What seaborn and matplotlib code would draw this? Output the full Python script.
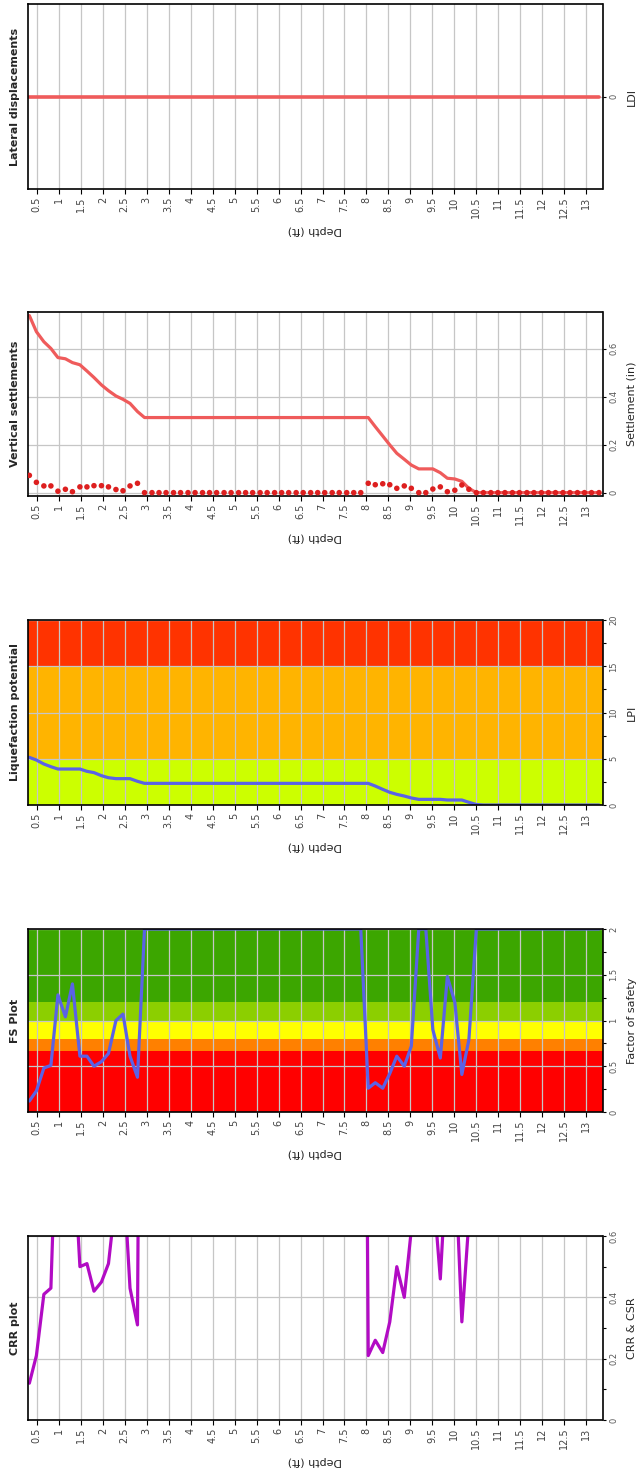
import matplotlib
matplotlib.use('Agg')
import matplotlib.pyplot as plt
from matplotlib.ticker import MultipleLocator, FixedLocator, FuncFormatter
import seaborn as sns

# depth of each reading (ft)
depth_ft = [0.33, 0.49, 0.66, 0.82, 0.98, 1.15, 1.31, 1.48, 1.64, 1.80,
            1.97, 2.13, 2.30, 2.46, 2.62, 2.79, 2.95, 3.12, 3.28, 3.44,
            3.61, 3.77, 3.94, 4.10, 4.27, 4.43, 4.59, 4.76, 4.92, 5.09,
            5.25, 5.41, 5.58, 5.74, 5.91, 6.07, 6.23, 6.40, 6.56, 6.73,
            6.89, 7.05, 7.22, 7.38, 7.55, 7.71, 7.87, 8.04, 8.20, 8.37,
            8.53, 8.69, 8.86, 9.02, 9.19, 9.35, 9.51, 9.68, 9.84, 10.01,
            10.17, 10.33, 10.50, 10.66, 10.83, 10.99, 11.15, 11.32, 11.48, 11.65,
            11.81, 11.98, 12.14, 12.30, 12.47, 12.63, 12.80, 12.96, 13.12, 13.29]

# CRR (values above 0.6 run off the top of the plot)
crr = [0.12, 0.21, 0.41, 0.43, 1.13, 1.20, 0.95, 0.50, 0.51, 0.42,
       0.45, 0.51, 0.73, 0.83, 0.43, 0.31, 4.0, 4.0, 4.0, 4.0,
       4.0, 4.0, 4.0, 4.0, 4.0, 4.0, 4.0, 4.0, 4.0, 4.0,
       4.0, 4.0, 4.0, 4.0, 4.0, 4.0, 4.0, 4.0, 4.0, 4.0,
       4.0, 4.0, 4.0, 4.0, 4.0, 4.0, 4.0, 0.21, 0.26, 0.22,
       0.32, 0.50, 0.40, 0.62, 4.0, 4.0, 0.77, 0.46, 0.88, 0.87,
       0.32, 0.65, 4.0, 4.0, 4.0, 4.0, 4.0, 4.0, 4.0, 4.0,
       4.0, 4.0, 4.0, 4.0, 4.0, 4.0, 4.0, 4.0, 4.0, 4.0]

factor_of_safety = [0.12, 0.23, 0.48, 0.51, 1.28, 1.04, 1.40, 0.61, 0.61, 0.50,
                    0.55, 0.64, 1.00, 1.07, 0.61, 0.38, 2.0, 2.0, 2.0, 2.0,
                    2.0, 2.0, 2.0, 2.0, 2.0, 2.0, 2.0, 2.0, 2.0, 2.0,
                    2.0, 2.0, 2.0, 2.0, 2.0, 2.0, 2.0, 2.0, 2.0, 2.0,
                    2.0, 2.0, 2.0, 2.0, 2.0, 2.0, 2.0, 0.26, 0.32, 0.26,
                    0.42, 0.61, 0.50, 0.72, 2.0, 2.0, 0.90, 0.59, 1.48, 1.20,
                    0.41, 0.79, 2.0, 2.0, 2.0, 2.0, 2.0, 2.0, 2.0, 2.0,
                    2.0, 2.0, 2.0, 2.0, 2.0, 2.0, 2.0, 2.0, 2.0, 2.0]

lpi = [5.15, 4.86, 4.43, 4.14, 3.89, 3.89, 3.89, 3.89, 3.64, 3.50,
       3.17, 2.95, 2.85, 2.85, 2.85, 2.56, 2.34, 2.34, 2.34, 2.34,
       2.34, 2.34, 2.34, 2.34, 2.34, 2.34, 2.34, 2.34, 2.34, 2.34,
       2.34, 2.34, 2.34, 2.34, 2.34, 2.34, 2.34, 2.34, 2.34, 2.34,
       2.34, 2.34, 2.34, 2.34, 2.34, 2.34, 2.34, 2.34, 2.05, 1.69,
       1.37, 1.15, 0.97, 0.76, 0.61, 0.61, 0.61, 0.61, 0.54, 0.54,
       0.54, 0.29, 0.05, 0.0, 0.0, 0.0, 0.0, 0.0, 0.0, 0.0,
       0.0, 0.0, 0.0, 0.0, 0.0, 0.0, 0.0, 0.0, 0.0, 0.0]

settlement_total = [0.738, 0.671, 0.629, 0.601, 0.563, 0.558, 0.542, 0.533, 0.507, 0.480,
                    0.449, 0.425, 0.403, 0.389, 0.372, 0.338, 0.313, 0.313, 0.313, 0.313,
                    0.313, 0.313, 0.313, 0.313, 0.313, 0.313, 0.313, 0.313, 0.313, 0.313,
                    0.313, 0.313, 0.313, 0.313, 0.313, 0.313, 0.313, 0.313, 0.313, 0.313,
                    0.313, 0.313, 0.313, 0.313, 0.313, 0.313, 0.313, 0.313, 0.275, 0.236,
                    0.199, 0.164, 0.139, 0.115, 0.099, 0.099, 0.099, 0.083, 0.060, 0.057,
                    0.047, 0.018, 0.0, 0.0, 0.0, 0.0, 0.0, 0.0, 0.0, 0.0,
                    0.0, 0.0, 0.0, 0.0, 0.0, 0.0, 0.0, 0.0, 0.0, 0.0]

settlement_layer = [0.072, 0.043, 0.028, 0.028, 0.006, 0.014, 0.004, 0.024, 0.024, 0.029,
                    0.029, 0.024, 0.013, 0.008, 0.028, 0.039, 0.0, 0.0, 0.0, 0.0,
                    0.0, 0.0, 0.0, 0.0, 0.0, 0.0, 0.0, 0.0, 0.0, 0.0,
                    0.0, 0.0, 0.0, 0.0, 0.0, 0.0, 0.0, 0.0, 0.0, 0.0,
                    0.0, 0.0, 0.0, 0.0, 0.0, 0.0, 0.0, 0.039, 0.033, 0.037,
                    0.033, 0.018, 0.028, 0.018, 0.0, 0.0, 0.015, 0.024, 0.004, 0.010,
                    0.032, 0.014, 0.0, 0.0, 0.0, 0.0, 0.0, 0.0, 0.0, 0.0,
                    0.0, 0.0, 0.0, 0.0, 0.0, 0.0, 0.0, 0.0, 0.0, 0.0]

ldi = [0.0, 0.0, 0.0, 0.0, 0.0, 0.0, 0.0, 0.0, 0.0, 0.0,
       0.0, 0.0, 0.0, 0.0, 0.0, 0.0, 0.0, 0.0, 0.0, 0.0,
       0.0, 0.0, 0.0, 0.0, 0.0, 0.0, 0.0, 0.0, 0.0, 0.0,
       0.0, 0.0, 0.0, 0.0, 0.0, 0.0, 0.0, 0.0, 0.0, 0.0,
       0.0, 0.0, 0.0, 0.0, 0.0, 0.0, 0.0, 0.0, 0.0, 0.0,
       0.0, 0.0, 0.0, 0.0, 0.0, 0.0, 0.0, 0.0, 0.0, 0.0,
       0.0, 0.0, 0.0, 0.0, 0.0, 0.0, 0.0, 0.0, 0.0, 0.0,
       0.0, 0.0, 0.0, 0.0, 0.0, 0.0, 0.0, 0.0, 0.0, 0.0]

fs_bands = [(0, 0.67, '#ff0000'), (0.67, 0.8, '#ff8000'), (0.8, 1.0, '#ffff00'),
            (1.0, 1.2, '#8ccf00'), (1.2, 2.0, '#3ca600')]
lpi_bands = [(0, 5, '#ccff00'), (5, 15, '#ffb400'), (15, 20, '#ff3300')]

sns.set_style('white')
plt.rcParams['font.family'] = ['DejaVu Sans']

W, H = 636, 1471
fig = plt.figure(figsize=(W / 100, H / 100), dpi=100)


def make_axes(top, bottom):
    return fig.add_axes([27.6 / W, 1 - bottom / H, (602.5 - 27.6) / W, (bottom - top) / H])


def style_axes(ax, title, ylabel, ylim, major, minor=None):
    ax.set_xlim(0.29, 13.37)
    ax.set_ylim(*ylim)
    ax.xaxis.set_major_locator(MultipleLocator(0.5))
    ax.xaxis.set_major_formatter(FuncFormatter(lambda v, p: f'{v:g}'))
    ax.yaxis.set_major_locator(FixedLocator(major))
    ax.yaxis.set_major_formatter(FuncFormatter(lambda v, p: f'{v:g}'))
    if minor is not None:
        ax.yaxis.set_minor_locator(FixedLocator(minor))
    ax.yaxis.tick_right()
    ax.tick_params(axis='x', which='major', bottom=True, labelrotation=90, labelsize=7,
                   length=3.6, width=0.8, color='black', labelcolor='#444444', pad=2)
    ax.tick_params(axis='y', which='both', right=True, left=False, labelrotation=90,
                   labelsize=6, length=2.5, width=0.8, color='black',
                   labelcolor='#555555', pad=2.5)
    plt.setp(ax.get_yticklabels(), va='center')
    ax.grid(True, which='major', color='#c6c6c6', linewidth=0.9)
    for s in ax.spines.values():
        s.set_color('black')
        s.set_linewidth(1.2)
    ax.set_xlabel('Depth (ft)', rotation=180, fontsize=8, color='#222222')
    ax.xaxis.label.set_va('center')
    ax.xaxis.set_label_coords(0.5, -0.222)
    ax.set_ylabel('')
    ax.text(-0.0212, 0.5, title, transform=ax.transAxes, rotation=90, fontsize=8,
            fontweight='bold', ha='center', va='center')
    ax.text(1.0505, 0.5, ylabel, transform=ax.transAxes, rotation=90, fontsize=8,
            ha='center', va='center')


# Lateral displacements
ax = make_axes(4, 189)
sns.lineplot(x=depth_ft, y=ldi, ax=ax, color='#ef5b5b', linewidth=2.6, sort=False)
style_axes(ax, 'Lateral displacements', 'LDI', (-1, 1), [0])

# Vertical settlements
ax = make_axes(312, 496)
sns.lineplot(x=depth_ft, y=settlement_total, ax=ax, color='#ef5b5b', linewidth=2.3, sort=False)
sns.scatterplot(x=depth_ft, y=settlement_layer, ax=ax, color='#dd1f1f', s=16,
                edgecolor='none', zorder=3)
style_axes(ax, 'Vertical settlements', 'Settlement (in)', (-0.014, 0.753), [0, 0.2, 0.4, 0.6])

# Liquefaction potential
ax = make_axes(620, 805)
for lo, hi, c in lpi_bands:
    ax.axhspan(lo, hi, color=c, zorder=0, linewidth=0)
sns.lineplot(x=depth_ft, y=lpi, ax=ax, color='#5a62e6', linewidth=2.3, sort=False)
style_axes(ax, 'Liquefaction potential', 'LPI', (0, 20), [0, 5, 10, 15, 20],
           [2.5, 7.5, 12.5, 17.5])

# FS plot
ax = make_axes(929, 1112)
for lo, hi, c in fs_bands:
    ax.axhspan(lo, hi, color=c, zorder=0, linewidth=0)
sns.lineplot(x=depth_ft, y=factor_of_safety, ax=ax, color='#5a62e6', linewidth=2.3, sort=False)
style_axes(ax, 'FS Plot', 'Factor of safety', (0, 2), [0, 0.5, 1, 1.5, 2],
           [0.25, 0.75, 1.25, 1.75])

# CRR plot
ax = make_axes(1236, 1420)
sns.lineplot(x=depth_ft, y=crr, ax=ax, color='#b20bc4', linewidth=2.3, sort=False)
style_axes(ax, 'CRR plot', 'CRR & CSR', (0, 0.6), [0, 0.2, 0.4, 0.6], [0.1, 0.3, 0.5])

fig.savefig('out.png', dpi=100)
